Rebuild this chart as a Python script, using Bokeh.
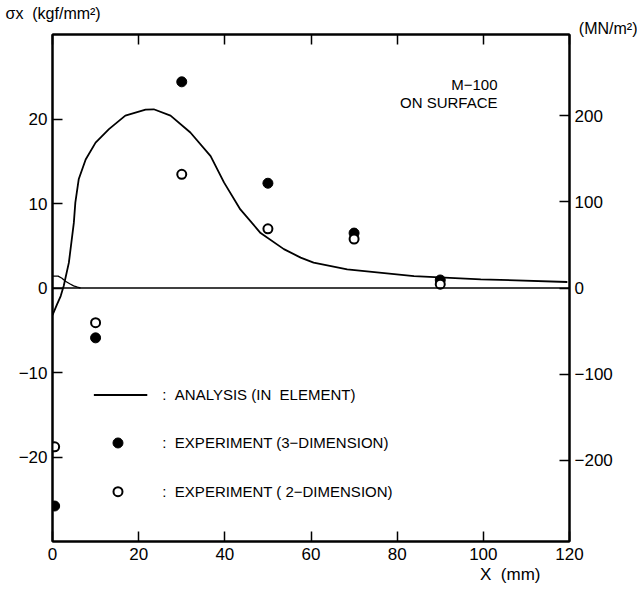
from bokeh.plotting import figure
from bokeh.models import (Range1d, LinearAxis, FixedTicker, Span, Label, Title)
from bokeh.embed import file_html
from bokeh.resources import INLINE

FONT = "Liberation Sans"

# Analysis curve (kgf/mm^2) vs X (mm)
analysis_x = [0, 1.0, 1.9, 2.6, 3.8, 4.95, 5.3, 6.1, 7.7, 10.0, 13.1, 16.9, 21.6, 23.5,
              27.4, 32.0, 36.7, 39.8, 43.6, 48.3, 53.7, 57.6, 60.6, 68.4, 83.9, 99.4, 119.5]
analysis_y = [-3.2, -2.0, -0.95, 0.24, 3.0, 7.7, 10.1, 12.9, 15.2, 17.2, 18.8, 20.4, 21.1, 21.15,
              20.4, 18.4, 15.6, 12.5, 9.3, 6.5, 4.6, 3.6, 3.0, 2.2, 1.4, 1.03, 0.71]

# small secondary analysis curve near origin
analysis2_x = [0, 1.3, 2.2, 3.0, 4.0, 4.9, 5.8, 6.5]
analysis2_y = [1.4, 1.4, 1.15, 0.8, 0.5, 0.25, 0.1, 0.0]

# Experiments
exp3d_x = [0.5, 10, 30, 50, 70, 90]
exp3d_y = [-25.8, -5.9, 24.4, 12.4, 6.5, 0.95]
exp2d_x = [0.5, 10, 30, 50, 70, 90]
exp2d_y = [-18.8, -4.1, 13.45, 7.0, 5.8, 0.45]

x_ticks = [0, 20, 40, 60, 80, 100, 120]
y_ticks = [-20, -10, 0, 10, 20]
y2_ticks = [-200, -100, 0, 100, 200]
KGF_TO_MPA = 9.80665

p = figure(width=637, height=590, output_backend="svg", toolbar_location=None,
           x_range=Range1d(0, 120), y_range=Range1d(-30, 30),
           min_border_left=52, min_border_right=68, min_border_top=34, min_border_bottom=49,
           x_axis_location=None, y_axis_location=None)
p.grid.visible = False
p.outline_line_color = "black"
p.outline_line_width = 2
p.background_fill_color = "white"
p.border_fill_color = "white"

p.extra_y_ranges = {"mn": Range1d(-30 * KGF_TO_MPA, 30 * KGF_TO_MPA)}


def style_axis(ax, labels=True):
    ax.axis_line_color = "black"
    ax.axis_line_width = 2
    ax.major_tick_in = 10
    ax.major_tick_out = 0
    ax.major_tick_line_width = 1.5
    ax.minor_tick_line_color = None
    ax.major_label_text_font = FONT
    ax.major_label_text_font_size = "17px"
    ax.major_label_text_color = "black" if labels else None
    ax.major_label_standoff = 6


bottom = LinearAxis(ticker=FixedTicker(ticks=x_ticks))
style_axis(bottom)
top = LinearAxis(ticker=FixedTicker(ticks=x_ticks))
style_axis(top, labels=False)
top.major_label_text_font_size = "0px"
top.major_label_standoff = 0
left = LinearAxis(ticker=FixedTicker(ticks=y_ticks))
style_axis(left)
left.major_label_standoff = 5
left.major_label_overrides = {-10: "\u221210", -20: "\u221220"}
right = LinearAxis(y_range_name="mn", ticker=FixedTicker(ticks=y2_ticks))
style_axis(right)
right.major_label_standoff = 5
right.major_label_overrides = {-100: "\u2212100", -200: "\u2212200"}

p.add_layout(bottom, "below")
p.add_layout(top, "above")
p.add_layout(left, "left")
p.add_layout(right, "right")

p.add_layout(Span(location=0, dimension="width", line_color="black", line_width=1.5))

p.line(analysis_x, analysis_y, line_color="black", line_width=1.8)
p.line(analysis2_x, analysis2_y, line_color="black", line_width=1.3)

p.scatter(exp3d_x, exp3d_y, size=10, marker="circle", fill_color="black", line_color="black")
p.scatter(exp2d_x, exp2d_y, size=9, marker="circle", fill_color="white", line_color="black", line_width=2)

# legend (drawn manually to mimic the figure)
leg_line_x = [9.6, 22.0]
leg_line_y = [-12.66, -12.66]
p.line(leg_line_x, leg_line_y, line_color="black", line_width=1.8)
p.scatter([15.2], [-18.34], size=10, marker="circle", fill_color="black", line_color="black")
p.scatter([15.2], [-24.1], size=9, marker="circle", fill_color="white", line_color="black", line_width=2)


def lab(x, y, text, size="15px", align="left", baseline="middle"):
    p.add_layout(Label(x=x, y=y, text=text, text_font=FONT, text_font_size=size,
                       text_align=align, text_baseline=baseline, text_color="black"))


NB = "\u00a0"
lab(25.5, -12.66, ":" + NB + NB + "ANALYSIS (IN" + NB + NB + "ELEMENT)")
lab(25.5, -18.34, ":" + NB + NB + "EXPERIMENT (3\u2212DIMENSION)")
lab(25.5, -24.1, ":" + NB + NB + "EXPERIMENT (" + NB + "2\u2212DIMENSION)")

lab(103.3, 24.1, "M\u2212100", align="right")
lab(103.3, 21.9, "ON SURFACE", align="right")


def title(text, side, align, offset, size="15px", standoff=0):
    t = Title(text=text, align=align, offset=offset, standoff=0,
              text_font=FONT, text_font_size=size, text_font_style="normal",
              text_color="black")
    try:
        t.standoff = standoff
    except Exception:
        pass
    p.add_layout(t, side)


title("(MN/m\u00b2)", "above", "right", -68, size="16px", standoff=-5)
title("\u03c3x" + NB + NB + "(kgf/mm\u00b2)", "above", "left", -47, size="16px", standoff=-2)
title("X" + NB + NB + "(mm)", "below", "right", 29, size="17px")

open("out.html", "w").write(file_html(p, INLINE))
